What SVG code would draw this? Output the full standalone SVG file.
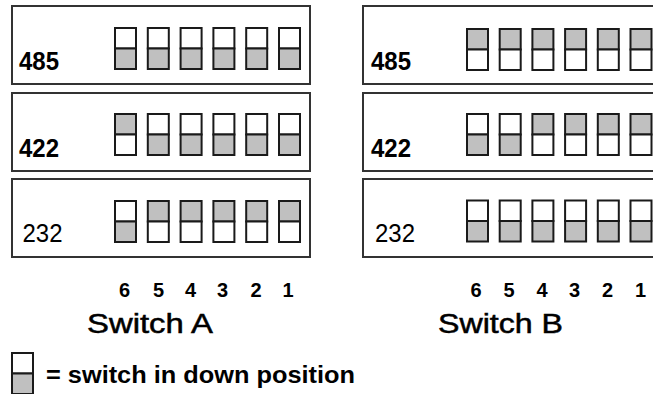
<svg xmlns="http://www.w3.org/2000/svg" width="653" height="394" viewBox="0 0 653 394">
<style>
.box{fill:#fff;stroke:#333;stroke-width:2}
.sw{stroke:#1a1a1a;stroke-width:2}
.w{fill:#fff}
.g{fill:#c0c0c0}
.lbl{font-family:"Liberation Sans",Arial,sans-serif;font-size:25px;fill:#000}
.b{font-weight:bold}
.num{font-family:"Liberation Sans",Arial,sans-serif;font-size:20px;font-weight:bold;fill:#000;text-anchor:middle}
.title{font-family:"Liberation Sans",Arial,sans-serif;font-size:27px;fill:#000;stroke:#000;stroke-width:0.5}
.leg{font-family:"Liberation Sans",Arial,sans-serif;font-size:23px;font-weight:bold;fill:#000}
</style>
<defs>
<g id="dn"><rect class="sw w" x="0" y="0" width="21" height="20.5"/><rect class="sw g" x="0" y="20.5" width="21" height="20.5"/></g>
<g id="up"><rect class="sw g" x="0" y="0" width="21" height="20.5"/><rect class="sw w" x="0" y="20.5" width="21" height="20.5"/></g>
</defs>
<rect width="653" height="394" fill="#fff"/>
<g id="connectors"/>
<g id="A485">
<rect class="box" x="12" y="6" width="298" height="78"/>
<text class="lbl b" x="19" y="70" textLength="40" lengthAdjust="spacingAndGlyphs">485</text>
<use href="#dn" x="115" y="28"/><use href="#dn" x="147.8" y="28"/><use href="#dn" x="180.6" y="28"/><use href="#dn" x="213.4" y="28"/><use href="#dn" x="246.2" y="28"/><use href="#dn" x="279" y="28"/>
</g>
<g id="A422">
<rect class="box" x="12" y="93" width="298" height="78"/>
<text class="lbl b" x="19" y="157" textLength="40" lengthAdjust="spacingAndGlyphs">422</text>
<use href="#up" x="115" y="114"/><use href="#dn" x="147.8" y="114"/><use href="#dn" x="180.6" y="114"/><use href="#dn" x="213.4" y="114"/><use href="#dn" x="246.2" y="114"/><use href="#dn" x="279" y="114"/>
</g>
<g id="A232">
<rect class="box" x="12" y="179" width="298" height="78"/>
<text class="lbl" x="22.5" y="242" textLength="40" lengthAdjust="spacingAndGlyphs">232</text>
<use href="#dn" x="115" y="201"/><use href="#up" x="147.8" y="201"/><use href="#up" x="180.6" y="201"/><use href="#up" x="213.4" y="201"/><use href="#up" x="246.2" y="201"/><use href="#up" x="279" y="201"/>
</g>
<g id="B485">
<rect class="box" x="363" y="6" width="340" height="78"/>
<text class="lbl b" x="371" y="70" textLength="40" lengthAdjust="spacingAndGlyphs">485</text>
<use href="#up" x="467" y="29"/><use href="#up" x="499.7" y="29"/><use href="#up" x="532.4" y="29"/><use href="#up" x="565.1" y="29"/><use href="#up" x="597.8" y="29"/><use href="#up" x="630.5" y="29"/>
</g>
<g id="B422">
<rect class="box" x="363" y="93" width="340" height="78"/>
<text class="lbl b" x="371" y="157" textLength="40" lengthAdjust="spacingAndGlyphs">422</text>
<use href="#dn" x="467" y="114"/><use href="#dn" x="499.7" y="114"/><use href="#up" x="532.4" y="114"/><use href="#up" x="565.1" y="114"/><use href="#up" x="597.8" y="114"/><use href="#up" x="630.5" y="114"/>
</g>
<g id="B232">
<rect class="box" x="363" y="179" width="340" height="78"/>
<text class="lbl" x="375" y="242" textLength="40" lengthAdjust="spacingAndGlyphs">232</text>
<use href="#dn" x="467" y="200.5"/><use href="#dn" x="499.7" y="200.5"/><use href="#dn" x="532.4" y="200.5"/><use href="#dn" x="565.1" y="200.5"/><use href="#dn" x="597.8" y="200.5"/><use href="#dn" x="630.5" y="200.5"/>
</g>
<g id="labelsA">
<text class="num" x="124.5" y="297">6</text><text class="num" x="158.5" y="297">5</text><text class="num" x="190.5" y="297">4</text><text class="num" x="222.5" y="297">3</text><text class="num" x="256" y="297">2</text><text class="num" x="288" y="297">1</text>
<text class="title" x="87" y="333" textLength="126" lengthAdjust="spacingAndGlyphs">Switch A</text>
</g>
<g id="labelsB">
<text class="num" x="476" y="297">6</text><text class="num" x="509" y="297">5</text><text class="num" x="542" y="297">4</text><text class="num" x="574.5" y="297">3</text><text class="num" x="607.5" y="297">2</text><text class="num" x="640.5" y="297">1</text>
<text class="title" x="438" y="333" textLength="125" lengthAdjust="spacingAndGlyphs">Switch B</text>
</g>
<g id="legend">
<use href="#dn" x="12" y="353"/>
<text class="leg" x="46" y="383" textLength="309" lengthAdjust="spacingAndGlyphs">= switch in down position</text>
</g>
</svg>
